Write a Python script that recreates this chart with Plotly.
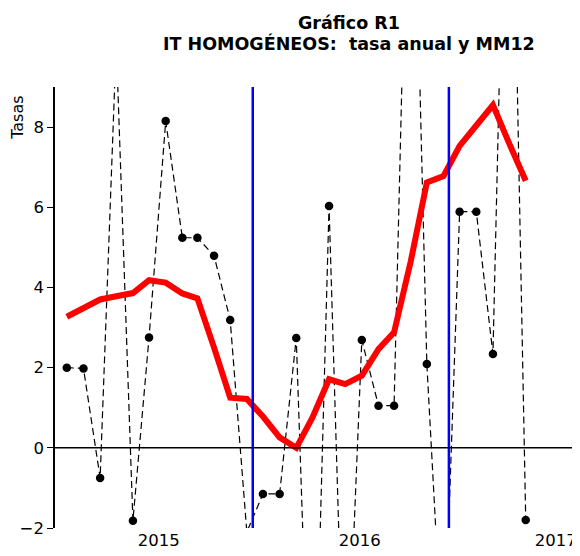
import plotly.graph_objects as go

months = ["2014-07-01", "2014-08-01", "2014-09-01", "2014-10-01", "2014-11-01", "2014-12-01",
          "2015-01-01", "2015-02-01", "2015-03-01", "2015-04-01", "2015-05-01", "2015-06-01",
          "2015-07-01", "2015-08-01", "2015-09-01", "2015-10-01", "2015-11-01", "2015-12-01",
          "2016-01-01", "2016-02-01", "2016-03-01", "2016-04-01", "2016-05-01", "2016-06-01",
          "2016-07-01", "2016-08-01", "2016-09-01", "2016-10-01", "2016-11-01"]

tasa_anual = [2.0, 1.98, -0.75, 10.1, -1.82, 2.75,
              8.15, 5.24, 5.24, 4.79, 3.19, -2.1,
              -1.15, -1.15, 2.74, -9.2, 6.03, -7.4,
              2.69, 1.05, 1.05, 18.2, 2.09, -5.6,
              5.89, 5.89, 2.34, 19.6, -1.8]

mm12 = [3.27, 3.48, 3.70, 3.78, 3.86, 4.18,
        4.12, 3.85, 3.73, 2.50, 1.25, 1.22,
        0.78, 0.26, 0.0, 0.75, 1.71, 1.59,
        1.80, 2.46, 2.88, 4.65, 6.62, 6.78,
        7.53, 8.04, 8.55, 7.60, 6.66]

blue_dates = ["2015-06-12", "2016-06-11"]

tick_dates = ["2014-12-19", "2015-12-28", "2016-12-27"]
tick_text = ["2015", "2016", "2017"]
y_ticks = [-2, 0, 2, 4, 6, 8]

FONT = "Verdana, DejaVu Sans, sans-serif"

fig = go.Figure()

fig.add_trace(go.Scatter(
    x=months, y=tasa_anual, mode="lines+markers",
    line=dict(color="black", width=1.2, dash="7px,4px"),
    marker=dict(color="black", size=8.5),
    cliponaxis=True, showlegend=False))

fig.add_trace(go.Scatter(
    x=months, y=mm12, mode="lines",
    line=dict(color="#ff0000", width=6),
    showlegend=False))

for d in blue_dates:
    fig.add_trace(go.Scatter(
        x=[d, d], y=[-2, 9], mode="lines",
        line=dict(color="#0000ff", width=2.5),
        showlegend=False))

fig.add_hline(y=0, line=dict(color="black", width=1.5))

# page body has an 8px margin: compensate so plot area sits at x 55..580, y 87..528
fig.update_layout(
    width=572, height=548,
    margin=dict(l=47, r=0, t=79, b=28, pad=0),
    paper_bgcolor="white", plot_bgcolor="white",
    font=dict(family=FONT, size=16, color="black"),
    xaxis=dict(type="date", range=["2014-06-09", "2017-02-10"],
               tickvals=tick_dates, ticktext=tick_text,
               showgrid=False, zeroline=False, showline=False,
               ticks="", tickfont=dict(size=16.5)),
    yaxis=dict(range=[-2, 9], tickvals=y_ticks,
               showgrid=False, zeroline=False,
               showline=True, linecolor="black", linewidth=1.5,
               ticks="outside", ticklen=6, tickcolor="black",
               tickfont=dict(size=16.5)),
    annotations=[
        dict(text="<b>Gráfico R1</b>", xref="paper", yref="paper",
             x=0.56, y=1.145, xanchor="center", yanchor="middle",
             showarrow=False, font=dict(size=17.5)),
        dict(text="<b>IT HOMOGÉNEOS:  tasa anual y MM12</b>", xref="paper", yref="paper",
             x=0.56, y=1.098, xanchor="center", yanchor="middle",
             showarrow=False, font=dict(size=17.5)),
        dict(text="Tasas", xref="paper", yref="paper",
             x=-0.0705, y=0.93, xanchor="center", yanchor="middle",
             textangle=-90, showarrow=False, font=dict(size=16)),
    ],
)

fig.write_html("out.html")
